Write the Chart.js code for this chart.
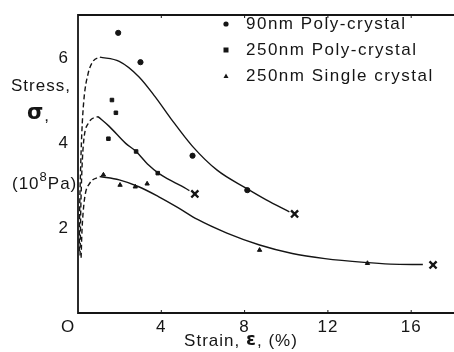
<!DOCTYPE html>
<html>
<head>
<meta charset="utf-8">
<script src="https://cdn.jsdelivr.net/npm/chart.js@4"></script>
<style>
  html, body { margin: 0; padding: 0; background: #fff; }
  #wrap { width: 454px; height: 352px; }
</style>
</head>
<body>
<div id="wrap"><canvas id="stressChart" width="454" height="352"></canvas></div>
<script>
// Measured points (strain %, stress 10^8 Pa)
const poly90X = [1.93, 3.0, 5.5, 8.13];
const poly90Y = [6.59, 5.9, 3.70, 2.89];
const poly250X = [1.63, 1.82, 1.46, 2.79, 3.83];
const poly250Y = [5.01, 4.71, 4.10, 3.80, 3.29];
const single250X = [1.22, 2.02, 2.75, 3.32, 8.72, 13.9];
const single250Y = [3.25, 3.01, 2.97, 3.04, 1.48, 1.17];

// Fitted curves: dashed start, solid rest
const curve90DashX = [0.06, 0.08, 0.12, 0.18, 0.28, 0.48, 0.72, 1.05];
const curve90DashY = [1.45, 2.4, 3.3, 4.2, 5.0, 5.62, 5.92, 6.02];
const curve90X = [1.05, 1.98, 2.92, 3.7, 4.45, 5.5, 6.68, 8.09, 9.04, 10.15];
const curve90Y = [6.02, 5.92, 5.56, 5.09, 4.58, 3.92, 3.36, 2.93, 2.66, 2.38];

const curve250DashX = [0.1, 0.13, 0.17, 0.25, 0.49, 0.96];
const curve250DashY = [1.35, 2.35, 3.13, 3.92, 4.46, 4.62];
const curve250X = [0.96, 1.5, 2.29, 2.79, 3.39, 3.86, 4.33, 4.96, 5.35];
const curve250Y = [4.62, 4.39, 3.99, 3.80, 3.48, 3.29, 3.15, 2.99, 2.88];

const curveSingleDashX = [0.15, 0.18, 0.22, 0.33, 0.56, 1.04];
const curveSingleDashY = [1.3, 1.8, 2.19, 2.74, 3.05, 3.21];
const curveSingleX = [1.04, 1.98, 2.92, 3.86, 4.8, 5.74, 7.15, 8.72, 10.29, 11.86, 13.74, 15.0, 16.56];
const curveSingleY = [3.21, 3.13, 2.97, 2.74, 2.48, 2.2, 1.88, 1.6, 1.4, 1.28, 1.19, 1.15, 1.14];

// Fracture points (x marks)
const fractureX = [10.4, 5.61, 17.05];
const fractureY = [2.33, 2.8, 1.13];

const xTicks = [4, 8, 12, 16];
const yTicks = [2, 4, 6];
const legendLabels = ['90nm Poly-crystal', '250nm Poly-crystal', '250nm Single crystal'];
const legendStyles = ['circle', 'rect', 'triangle'];

const INK = '#151515';

function pts(xs, ys) {
    return xs.map((x, i) => ({ x: x, y: ys[i] }));
}

function curve(xs, ys, dashed) {
    return {
        data: pts(xs, ys),
        showLine: true,
        borderColor: INK,
        borderWidth: 1.4,
        borderDash: dashed ? [5, 3] : [],
        cubicInterpolationMode: 'monotone',
        pointRadius: 0,
        fill: false
    };
}

function marks(xs, ys, style, r) {
    return {
        data: pts(xs, ys),
        showLine: false,
        pointStyle: style,
        pointRadius: r,
        backgroundColor: INK,
        borderColor: INK,
        borderWidth: 1
    };
}

// Frame, ticks, labels, titles and legend
const decorPlugin = {
    id: 'decor',
    afterDraw(chart) {
        const ctx = chart.ctx;
        const xs = chart.scales.x;
        const ys = chart.scales.y;
        const a = chart.chartArea;
        ctx.save();
        ctx.strokeStyle = INK;
        ctx.fillStyle = INK;
        ctx.lineWidth = 1.8;
        ctx.beginPath();
        ctx.moveTo(454, a.top);
        ctx.lineTo(a.left, a.top);
        ctx.lineTo(a.left, a.bottom);
        ctx.lineTo(454, a.bottom);
        ctx.stroke();

        ctx.lineWidth = 1;
        xTicks.forEach(v => {
            const px = xs.getPixelForValue(v);
            ctx.beginPath();
            ctx.moveTo(px, a.bottom);
            ctx.lineTo(px, a.bottom - 3);
            ctx.moveTo(px, a.top);
            ctx.lineTo(px, a.top + 3);
            ctx.stroke();
        });

        ctx.letterSpacing = '1px';
        ctx.font = '17px "Liberation Sans", Arial, sans-serif';
        ctx.textBaseline = 'middle';
        ctx.textAlign = 'center';
        xTicks.forEach(v => {
            ctx.fillText(String(v), xs.getPixelForValue(v), 327);
        });
        ctx.fillText('O', 68, 327);
        ctx.textAlign = 'right';
        yTicks.forEach(v => {
            ctx.fillText(String(v), 69, ys.getPixelForValue(v));
        });

        // y title
        ctx.textAlign = 'left';
        ctx.fillText('Stress,', 11, 86);
        ctx.font = 'bold 21px "DejaVu Sans", sans-serif';
        ctx.fillText('σ', 27, 114);
        let w = ctx.measureText('σ').width;
        ctx.font = '17px "Liberation Sans", Arial, sans-serif';
        ctx.fillText(',', 27 + w, 116);
        ctx.fillText('(10', 12, 184);
        w = ctx.measureText('(10').width;
        ctx.font = '13px "Liberation Sans", Arial, sans-serif';
        ctx.fillText('8', 12 + w, 177);
        const w8 = ctx.measureText('8').width;
        ctx.font = '17px "Liberation Sans", Arial, sans-serif';
        ctx.fillText('Pa)', 12 + w + w8, 184);

        // x title
        const part1 = 'Strain, ';
        const part3 = ', (%)';
        const w1 = ctx.measureText(part1).width;
        const w3 = ctx.measureText(part3).width;
        ctx.font = 'bold 18px "DejaVu Sans", sans-serif';
        const w2 = ctx.measureText('ε').width;
        let sx = 241 - (w1 + w2 + w3) / 2;
        ctx.font = '17px "Liberation Sans", Arial, sans-serif';
        ctx.fillText(part1, sx, 341);
        ctx.font = 'bold 18px "DejaVu Sans", sans-serif';
        ctx.fillText('ε', sx + w1, 340);
        ctx.font = '17px "Liberation Sans", Arial, sans-serif';
        ctx.fillText(part3, sx + w1 + w2, 341);

        // legend
        ctx.letterSpacing = '1.5px';
        const rows = [24, 50, 76];
        legendLabels.forEach((lab, i) => {
            const y = rows[i];
            ctx.beginPath();
            if (legendStyles[i] === 'circle') {
                ctx.arc(226, y, 2.6, 0, Math.PI * 2);
            } else if (legendStyles[i] === 'rect') {
                ctx.rect(223.5, y - 2.5, 5, 5);
            } else {
                ctx.moveTo(226, y - 2.5);
                ctx.lineTo(228.5, y + 2);
                ctx.lineTo(223.5, y + 2);
                ctx.closePath();
            }
            ctx.fill();
            ctx.fillText(lab, 246, y);
        });
        ctx.restore();
    }
};

function initChart() {
    const ctx = document.getElementById('stressChart').getContext('2d');
    new Chart(ctx, {
        type: 'scatter',
        data: {
            datasets: [
                curve(curve90DashX, curve90DashY, true),
                curve(curve90X, curve90Y, false),
                curve(curve250DashX, curve250DashY, true),
                curve(curve250X, curve250Y, false),
                curve(curveSingleDashX, curveSingleDashY, true),
                curve(curveSingleX, curveSingleY, false),
                marks(poly90X, poly90Y, 'circle', 2.6),
                marks(poly250X, poly250Y, 'rect', 2.5),
                marks(single250X, single250Y, 'triangle', 2.5),
                {
                    data: pts(fractureX, fractureY),
                    showLine: false,
                    pointStyle: 'crossRot',
                    pointRadius: 5,
                    borderColor: INK,
                    borderWidth: 2.4
                }
            ]
        },
        options: {
            responsive: false,
            animation: false,
            layout: { padding: { left: 78, top: 15, right: 0, bottom: 39 } },
            plugins: {
                legend: { display: false },
                tooltip: { enabled: false }
            },
            scales: {
                x: { type: 'linear', min: 0, max: 17.7, display: false },
                y: { type: 'linear', min: 0, max: 7.01, display: false }
            }
        },
        plugins: [decorPlugin]
    });
}

document.addEventListener('DOMContentLoaded', initChart);
</script>
</body>
</html>
